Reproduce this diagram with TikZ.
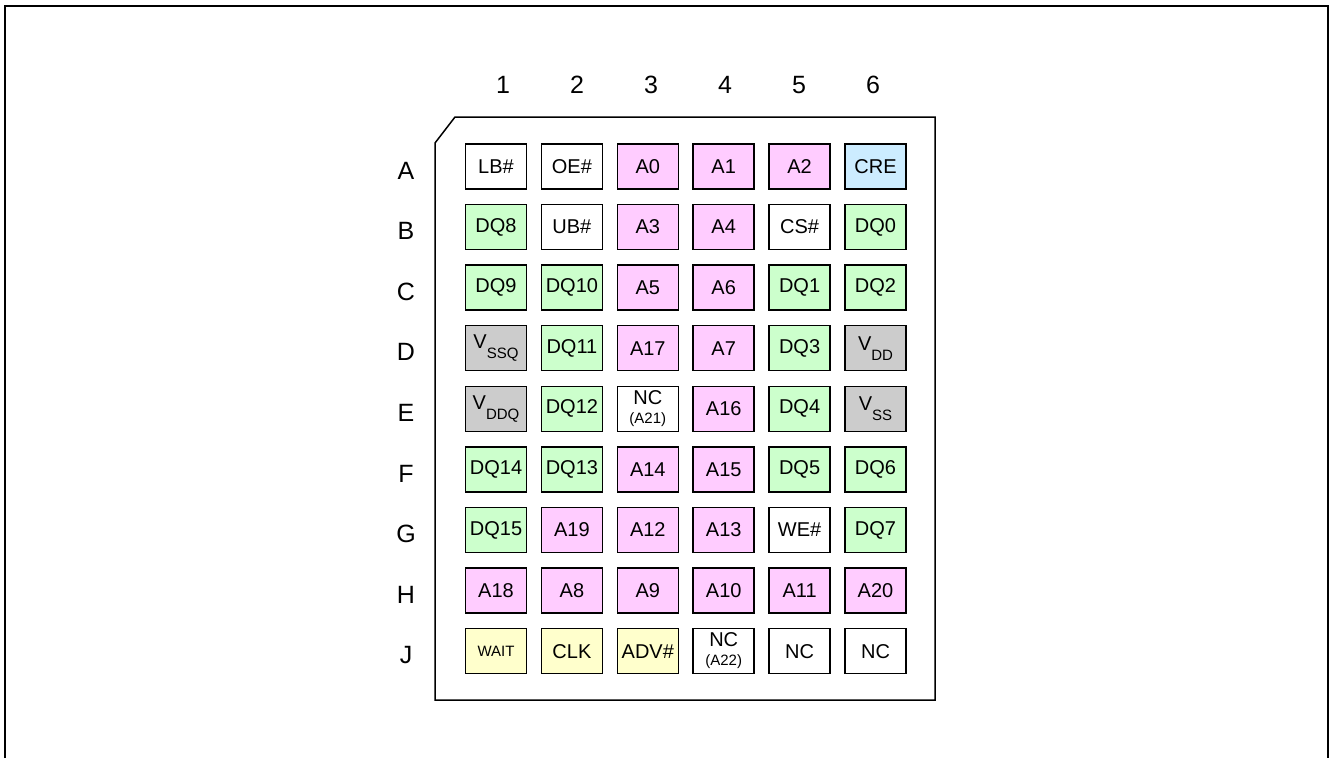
\documentclass[tikz,border=0pt]{standalone}
\usepackage{fontspec}
\setmainfont{Liberation Sans}
\usepackage{xcolor}
\usetikzlibrary{positioning,matrix}

\definecolor{addrpink}{HTML}{FFCCFF}
\definecolor{datagreen}{HTML}{CCFFCC}
\definecolor{cfgblue}{HTML}{CCECFF}
\definecolor{pwrgray}{HTML}{CCCCCC}
\definecolor{ctrlyellow}{HTML}{FFFFCC}

\newcommand{\pinsub}[2]{#1\raisebox{-0.5em}{\fontsize{15}{15}\selectfont #2}}
\newcommand{\ncpin}[1]{\begin{tabular}{@{}c@{}}NC\\[-5pt]{\fontsize{15}{15}\selectfont(#1)}\end{tabular}}

\begin{document}
\begin{tikzpicture}[x=1pt, y=-1pt, font=\fontsize{20}{24}\selectfont, line width=1.5pt]
        \tikzset{
            padbox/.style={draw, anchor=center, minimum width=61pt, minimum height=45pt, inner sep=0pt},
            addrpad/.style={padbox, fill=addrpink},
            datapad/.style={padbox, fill=datagreen},
            cfgpad/.style={padbox, fill=cfgblue},
            pwrpad/.style={padbox, fill=pwrgray},
            ctrlpad/.style={padbox, fill=ctrlyellow},
            gridlabel/.style={font=\fontsize{25}{30}\selectfont}
        }
        \useasboundingbox (0,0) rectangle (1330,758);

        % frame, open at the bottom
        \draw (5,758) -- (5,6) -- (1328,6) -- (1328,758);

        % package outline with cut corner
        \draw (455,117) -- (935,117) -- (935,700) -- (435,700) -- (435,143) -- cycle;

        \matrix (pads) [matrix of nodes, nodes={padbox},
                        column sep={75.9pt,between origins}, row sep={60.6pt,between origins}] at (685.75,408.75) {
            LB\# & OE\# & |[addrpad]| A0 & |[addrpad]| A1 & |[addrpad]| A2 & |[cfgpad]| CRE \\
            |[datapad]| DQ8 & UB\# & |[addrpad]| A3 & |[addrpad]| A4 & CS\# & |[datapad]| DQ0 \\
            |[datapad]| DQ9 & |[datapad]| DQ10 & |[addrpad]| A5 & |[addrpad]| A6 & |[datapad]| DQ1 & |[datapad]| DQ2 \\
            |[pwrpad]| \pinsub{V}{SSQ} & |[datapad]| DQ11 & |[addrpad]| A17 & |[addrpad]| A7 & |[datapad]| DQ3 & |[pwrpad]| \pinsub{V}{DD} \\
            |[pwrpad]| \pinsub{V}{DDQ} & |[datapad]| DQ12 & \ncpin{A21} & |[addrpad]| A16 & |[datapad]| DQ4 & |[pwrpad]| \pinsub{V}{SS} \\
            |[datapad]| DQ14 & |[datapad]| DQ13 & |[addrpad]| A14 & |[addrpad]| A15 & |[datapad]| DQ5 & |[datapad]| DQ6 \\
            |[datapad]| DQ15 & |[addrpad]| A19 & |[addrpad]| A12 & |[addrpad]| A13 & WE\# & |[datapad]| DQ7 \\
            |[addrpad]| A18 & |[addrpad]| A8 & |[addrpad]| A9 & |[addrpad]| A10 & |[addrpad]| A11 & |[addrpad]| A20 \\
            |[ctrlpad, font=\fontsize{15}{18}\selectfont]| WAIT & |[ctrlpad]| CLK & |[ctrlpad]| ADV\# & \ncpin{A22} & NC & NC \\
        };

        \foreach \c in {1,...,6}
            \node[gridlabel] (col\c) at ({503+74*(\c-1)}, 85) {\c};
        \foreach \r [count=\j from 0] in {A,B,C,D,E,F,G,H,J}
            \node[gridlabel] (row\r) at (406, {170.5+60.6*\j}) {\r};
\end{tikzpicture}
\end{document}
